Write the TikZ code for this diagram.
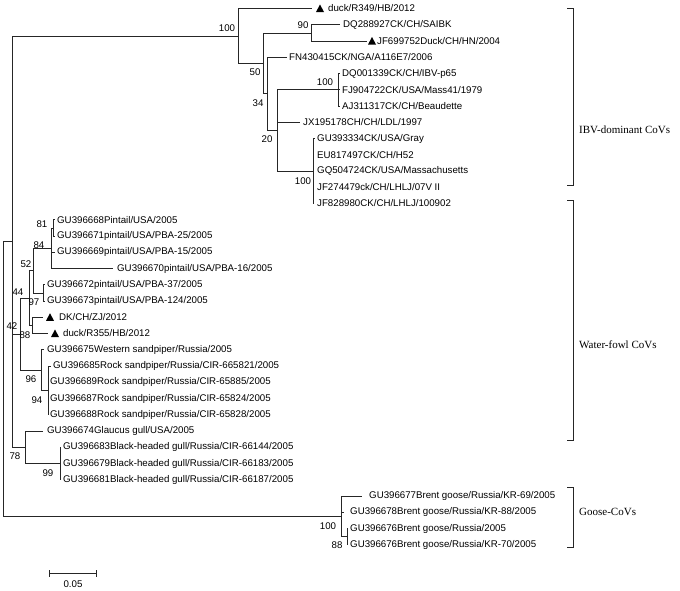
\documentclass[tikz,border=0pt]{standalone}
\usepackage{fontspec}
\setmainfont{Liberation Sans}
\newfontfamily\grpfont{Liberation Serif}
\begin{document}
\begin{tikzpicture}[x=1pt,y=-1pt,
  br/.style={line width=0.75pt, draw=black!85},
  lf/.style={anchor=west, inner sep=0pt, font=\fontsize{9.7}{11}\selectfont},
  bs/.style={inner sep=0pt, font=\fontsize{9.7}{11}\selectfont},
  grp/.style={anchor=west, inner sep=0pt, font=\grpfont\fontsize{11}{13}\selectfont},
  tri/.style={fill=black}]
\useasboundingbox (0,0) rectangle (680,590);
\fill[white] (0,0) rectangle (680,590);
% ---------- internal nodes ----------
\coordinate (root) at (3,241.6);
\coordinate (nTop) at (12,241.6);
\coordinate (n100) at (238,35.9);
\coordinate (n90) at (311,32.9);
\coordinate (n50) at (263,63.3);
\coordinate (n34) at (267,93.8);
\coordinate (n20) at (277,130.4);
\coordinate (nB) at (338,89.75);
\coordinate (nM) at (313,171);
\coordinate (n81) at (53,227.9);
\coordinate (n84) at (51,248);
\coordinate (n97) at (43,292.9);
\coordinate (n52) at (33,270.5);
\coordinate (n88) at (32,325.4);
\coordinate (n44) at (29,297.9);
\coordinate (n94) at (48,390.4);
\coordinate (n96) at (41,370);
\coordinate (n42) at (20,334);
\coordinate (n99) at (60,463.5);
\coordinate (n78) at (25,447.25);
\coordinate (nG) at (341,516.3);
\coordinate (nG88) at (347,536.6);
% ---------- tips ----------
\coordinate (t0) at (312,8.5);
\coordinate (t1) at (340,24.75);
\coordinate (t2) at (367,41);
\coordinate (t3) at (287,57.25);
\coordinate (t4) at (340,73.5);
\coordinate (t5) at (340,89.75);
\coordinate (t6) at (340,106);
\coordinate (t7) at (300,122.25);
\coordinate (t8) at (315,138.5);
\coordinate (t12) at (313.5,203.5);
\coordinate (t13) at (55,219.75);
\coordinate (t14) at (55,236);
\coordinate (t15) at (55,252.25);
\coordinate (t16) at (113,268.5);
\coordinate (t17) at (45,284.75);
\coordinate (t18) at (45,301);
\coordinate (t19) at (43,317.25);
\coordinate (t20) at (48,333.5);
\coordinate (t21) at (44,349.75);
\coordinate (t22) at (51,366);
\coordinate (t25) at (48.5,414.75);
\coordinate (t26) at (43,431);
\coordinate (t27) at (61,447.25);
\coordinate (t29) at (61,479.75);
\coordinate (t30) at (362,496);
\coordinate (t31) at (344,512.25);
\coordinate (t32) at (348,528.5);
\coordinate (t33) at (348,544.75);
% ---------- branches ----------
\draw[br] (root) -- (nTop);
\draw[br] (root) |- (nG);
\draw[br] (nTop) |- (n100);
\draw[br] (nTop) |- (n42);
\draw[br] (nTop) |- (n78);
\draw[br] (n100) |- (t0);
\draw[br] (n100) |- (n50);
\draw[br] (n50) |- (n90);
\draw[br] (n50) |- (n34);
\draw[br] (n90) |- (t1);
\draw[br] (n90) |- (t2);
\draw[br] (n34) |- (t3);
\draw[br] (n34) |- (n20);
\draw[br] (n20) |- (nB);
\draw[br] (n20) |- (t7);
\draw[br] (n20) |- (nM);
\draw[br] (nB) |- (t4);
\draw[br] (nB) -- (t5);
\draw[br] (nB) |- (t6);
\draw[br] (nM) |- (t8);
\draw[br] (nM) |- (t12);
\draw[br] (n42) |- (n44);
\draw[br] (n42) |- (n96);
\draw[br] (n44) |- (n52);
\draw[br] (n44) |- (n88);
\draw[br] (n52) |- (n84);
\draw[br] (n52) |- (n97);
\draw[br] (n84) |- (n81);
\draw[br] (n84) |- (t15);
\draw[br] (n84) |- (t16);
\draw[br] (n81) |- (t13);
\draw[br] (n81) |- (t14);
\draw[br] (n97) |- (t17);
\draw[br] (n97) |- (t18);
\draw[br] (n88) |- (t19);
\draw[br] (n88) |- (t20);
\draw[br] (n96) |- (t21);
\draw[br] (n96) |- (n94);
\draw[br] (n94) |- (t22);
\draw[br] (n94) |- (t25);
\draw[br] (n78) |- (t26);
\draw[br] (n78) |- (n99);
\draw[br] (n99) |- (t27);
\draw[br] (n99) |- (t29);
\draw[br] (nG) |- (t30);
\draw[br] (nG) |- (t31);
\draw[br] (nG) |- (nG88);
\draw[br] (nG88) |- (t32);
\draw[br] (nG88) |- (t33);
% ---------- triangles ----------
\fill[tri] (316,12) -- (324,12) -- (320,4.5) -- cycle;
\fill[tri] (368,44.5) -- (376,44.5) -- (372,37) -- cycle;
\fill[tri] (46,320.75) -- (54,320.75) -- (50,313.25) -- cycle;
\fill[tri] (51,337) -- (59,337) -- (55,329.5) -- cycle;
% ---------- leaf labels ----------
\node[lf] (L0) at (328,8.5) {duck/R349/HB/2012};
\node[lf] (L1) at (343,24.75) {DQ288927CK/CH/SAIBK};
\node[lf] (L2) at (377,41) {JF699752Duck/CH/HN/2004};
\node[lf] (L3) at (289,57.25) {FN430415CK/NGA/A116E7/2006};
\node[lf] (L4) at (342,73.5) {DQ001339CK/CH/IBV-p65};
\node[lf] (L5) at (342,89.75) {FJ904722CK/USA/Mass41/1979};
\node[lf] (L6) at (342,106) {AJ311317CK/CH/Beaudette};
\node[lf] (L7) at (303,122.25) {JX195178CH/CH/LDL/1997};
\node[lf] (L8) at (317,138.5) {GU393334CK/USA/Gray};
\node[lf] (L9) at (317,154.75) {EU817497CK/CH/H52};
\node[lf] (L10) at (317,171) {GQ504724CK/USA/Massachusetts};
\node[lf] (L11) at (317,187.25) {JF274479ck/CH/LHLJ/07V II};
\node[lf] (L12) at (317,203.5) {JF828980CK/CH/LHLJ/100902};
\node[lf] (L13) at (57,219.75) {GU396668Pintail/USA/2005};
\node[lf] (L14) at (57,236) {GU396671pintail/USA/PBA-25/2005};
\node[lf] (L15) at (57,252.25) {GU396669pintail/USA/PBA-15/2005};
\node[lf] (L16) at (117,268.5) {GU396670pintail/USA/PBA-16/2005};
\node[lf] (L17) at (47,284.75) {GU396672pintail/USA/PBA-37/2005};
\node[lf] (L18) at (47,301) {GU396673pintail/USA/PBA-124/2005};
\node[lf] (L19) at (59,317.25) {DK/CH/ZJ/2012};
\node[lf] (L20) at (63,333.5) {duck/R355/HB/2012};
\node[lf] (L21) at (47,349.75) {GU396675Western sandpiper/Russia/2005};
\node[lf] (L22) at (53,366) {GU396685Rock sandpiper/Russia/CIR-665821/2005};
\node[lf] (L23) at (50,382.25) {GU396689Rock sandpiper/Russia/CIR-65885/2005};
\node[lf] (L24) at (50,398.5) {GU396687Rock sandpiper/Russia/CIR-65824/2005};
\node[lf] (L25) at (50,414.75) {GU396688Rock sandpiper/Russia/CIR-65828/2005};
\node[lf] (L26) at (47,431) {GU396674Glaucus gull/USA/2005};
\node[lf] (L27) at (63,447.25) {GU396683Black-headed gull/Russia/CIR-66144/2005};
\node[lf] (L28) at (63,463.5) {GU396679Black-headed gull/Russia/CIR-66183/2005};
\node[lf] (L29) at (63,479.75) {GU396681Black-headed gull/Russia/CIR-66187/2005};
\node[lf] (L30) at (369,496) {GU396677Brent goose/Russia/KR-69/2005};
\node[lf] (L31) at (350,512.25) {GU396678Brent goose/Russia/KR-88/2005};
\node[lf] (L32) at (350,528.5) {GU396676Brent goose/Russia/2005};
\node[lf] (L33) at (350,544.75) {GU396676Brent goose/Russia/KR-70/2005};
% ---------- bootstrap values ----------
\node[bs] (b1) at (227,28) {100};
\node[bs] (b2) at (303,25) {90};
\node[bs] (b3) at (255,72) {50};
\node[bs] (b4) at (258,103) {34};
\node[bs] (b5) at (267,139) {20};
\node[bs] (b6) at (325,82) {100};
\node[bs] (b7) at (303,181) {100};
\node[bs] (b8) at (42,224) {81};
\node[bs] (b9) at (39,245) {84};
\node[bs] (b10) at (26,264) {52};
\node[bs] (b11) at (18,292) {44};
\node[bs] (b12) at (34,302) {97};
\node[bs] (b13) at (12,326) {42};
\node[bs] (b14) at (25,335) {88};
\node[bs] (b15) at (31,379) {96};
\node[bs] (b16) at (37,400) {94};
\node[bs] (b17) at (15,456) {78};
\node[bs] (b18) at (48,473) {99};
\node[bs] (b19) at (328,526) {100};
\node[bs] (b20) at (337,545) {88};
% ---------- scale bar ----------
\coordinate (s0) at (49,573);
\coordinate (s1) at (96,573);
\draw[br] (s0) -- (s1);
\draw[br] ([yshift=-3.5pt]s0) -- ([yshift=3.5pt]s0);
\draw[br] ([yshift=-3.5pt]s1) -- ([yshift=3.5pt]s1);
\node[bs] (sc) at (73,584) {0.05};
% ---------- group brackets ----------
\draw[br] (567,8) -- (573,8) -- (573,185) -- (567,185);
\draw[br] (567,200) -- (573,200) -- (573,440) -- (567,440);
\draw[br] (567,487) -- (573,487) -- (573,547) -- (567,547);
\node[grp] (g1) at (579,130) {IBV-dominant CoVs};
\node[grp] (g2) at (579,345) {Water-fowl CoVs};
\node[grp] (g3) at (579,512) {Goose-CoVs};
\end{tikzpicture}
\end{document}
